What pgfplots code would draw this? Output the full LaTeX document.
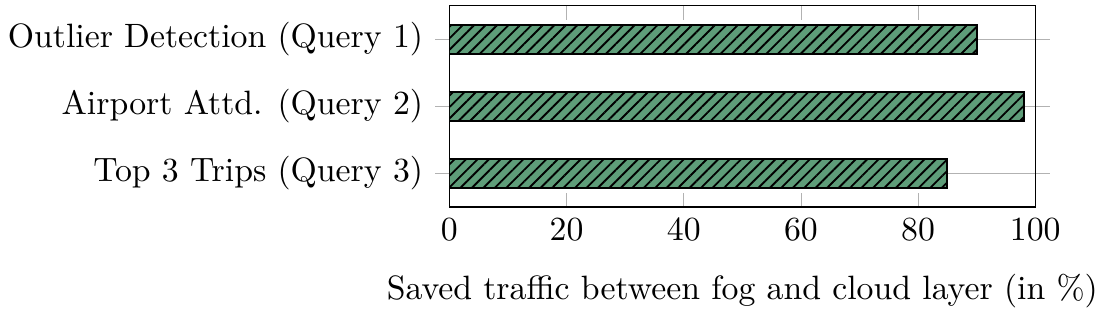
\documentclass[border={-1pt 2.5pt -2.7pt 1.5pt}]{standalone}
\usepackage{pgfplots}
\pgfplotsset{compat=1.18}
\usetikzlibrary{patterns.meta}
\definecolor{barg}{RGB}{94,157,121}
\begin{document}
\begin{tikzpicture}
\begin{axis}[
  xbar,
  scale only axis,
  width=173.5pt, height=59.6pt,
  xmin=0, xmax=100,
  ymin=-0.5, ymax=2.5,
  bar width=8.5pt,
  ytick={0,1,2},
  yticklabels={Top 3 Trips (Query 3), Airport Attd. (Query 2), Outlier Detection (Query 1)},
  xtick={0,20,40,60,80,100},
  ymajorgrids,
  major grid style={gray!60},
  x tick style={gray!60},
  y tick style={gray!60},
  ytick align=outside,
  xtick align=inside,
  xlabel={Saved traffic between fog and cloud layer (in \%)},
  xlabel style={yshift=-3pt},
]
\addplot[draw=black, semithick, fill=barg, postaction={pattern={Lines[angle=45, distance=2.4pt, line width=0.55pt]}}] coordinates {(85,0) (98,1) (90,2)};
\end{axis}
\end{tikzpicture}
\end{document}
